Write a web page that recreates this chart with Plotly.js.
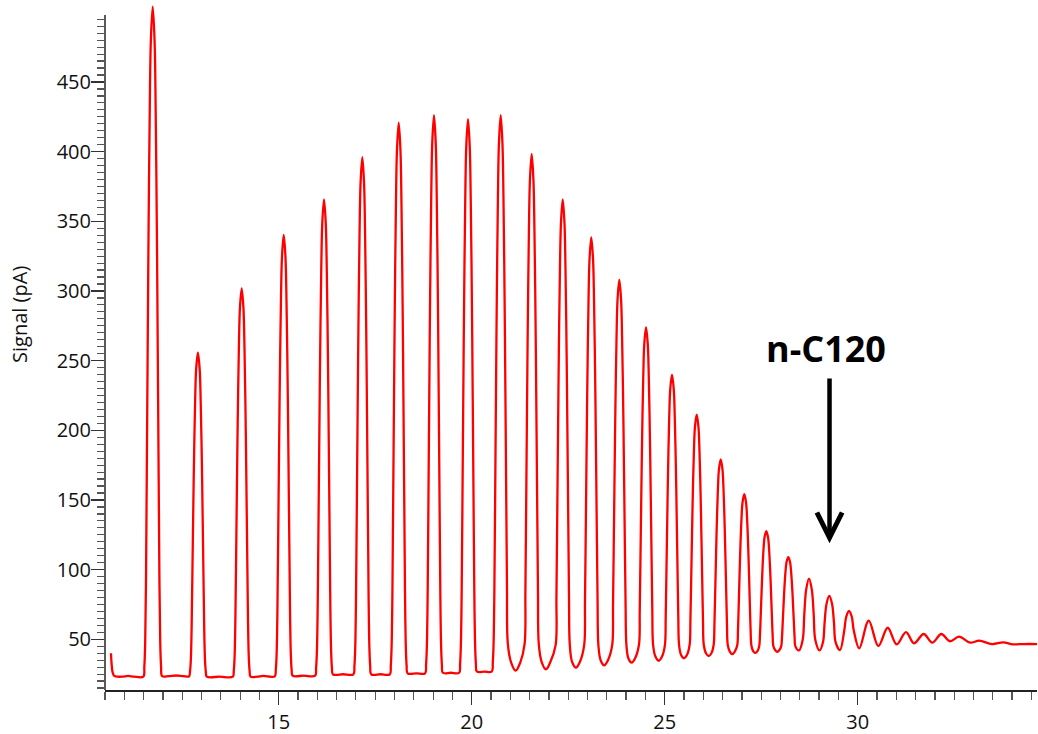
<!DOCTYPE html>
<html>
<head>
<meta charset="utf-8">
<script src="https://cdn.plot.ly/plotly-3.0.1.min.js"></script>
<style>
html,body{margin:0;padding:0;background:#fff;}
#chart{width:1038px;height:734px;}
</style>
</head>
<body>
<div id="chart"></div>
<script>
// Retention time (min) and detector signal (pA)
const retentionTime = [
  10.655,10.672,10.695,10.730,10.780,10.950,11.100,11.250,
  11.492,11.519,11.541,11.563,11.582,11.607,11.629,11.660,11.688,11.736,11.784,11.812,11.843,11.865,11.890,11.909,11.931,11.953,11.980,
  12.150,12.340,12.530,
  12.677,12.702,12.723,12.744,12.762,12.785,12.806,12.835,12.862,12.907,12.952,12.979,13.008,13.029,13.052,13.070,13.091,13.112,13.137,
  13.470,
  13.811,13.836,13.857,13.878,13.896,13.919,13.940,13.969,13.996,14.041,14.086,14.113,14.142,14.163,14.186,14.204,14.225,14.246,14.271,
  14.450,14.590,14.730,
  14.900,14.925,14.946,14.967,14.985,15.008,15.029,15.058,15.085,15.130,15.175,15.202,15.231,15.252,15.275,15.293,15.314,15.335,15.360,
  15.650,
  15.944,15.969,15.990,16.011,16.029,16.052,16.073,16.102,16.129,16.174,16.219,16.246,16.275,16.296,16.319,16.337,16.358,16.379,16.404,
  16.670,
  16.936,16.961,16.982,17.003,17.021,17.044,17.065,17.094,17.121,17.166,17.211,17.238,17.267,17.288,17.311,17.329,17.350,17.371,17.396,
  17.640,
  17.879,17.904,17.925,17.946,17.964,17.987,18.008,18.037,18.064,18.109,18.154,18.181,18.210,18.231,18.254,18.272,18.293,18.314,18.339,
  18.570,
  18.793,18.818,18.839,18.860,18.878,18.901,18.922,18.951,18.978,19.023,19.068,19.095,19.124,19.145,19.168,19.186,19.207,19.228,19.253,
  19.460,
  19.674,19.699,19.720,19.741,19.759,19.782,19.803,19.832,19.859,19.904,19.949,19.976,20.005,20.026,20.049,20.067,20.088,20.109,20.134,
  20.330,
  20.521,20.546,20.567,20.588,20.606,20.629,20.650,20.679,20.706,20.751,20.796,20.823,20.852,20.873,20.896,20.914,20.935,
  21.020,21.140,21.260,
  21.370,21.391,21.409,21.432,21.453,21.482,21.509,21.554,21.599,21.626,21.655,21.676,21.699,21.717,21.738,
  21.815,21.925,22.035,
  22.174,22.195,22.213,22.236,22.257,22.286,22.313,22.358,22.403,22.430,22.459,22.480,22.503,22.521,22.542,
  22.602,22.702,22.802,
  22.914,22.935,22.953,22.976,22.997,23.026,23.053,23.098,23.143,23.170,23.199,23.220,23.243,23.261,23.282,
  23.340,23.435,23.530,
  23.640,23.661,23.679,23.702,23.723,23.752,23.779,23.824,23.869,23.896,23.925,23.946,23.969,23.987,24.008,
  24.060,24.145,24.230,
  24.332,24.353,24.371,24.394,24.415,24.444,24.471,24.516,24.561,24.588,24.617,24.638,24.661,24.679,24.700,
  24.760,24.845,24.930,
  25.005,25.026,25.044,25.067,25.088,25.117,25.144,25.189,25.234,25.261,25.290,25.311,25.334,25.352,25.373,
  25.425,25.500,25.575,
  25.645,25.666,25.684,25.707,25.728,25.757,25.784,25.829,25.874,25.901,25.930,25.951,25.974,25.992,26.013,
  26.070,26.140,26.210,
  26.267,26.288,26.306,26.329,26.350,26.379,26.406,26.451,26.496,26.523,26.552,26.573,26.596,26.614,26.635,
  26.686,26.751,26.816,
  26.878,26.899,26.917,26.940,26.961,26.990,27.017,27.062,27.107,27.134,27.163,27.184,27.207,27.225,27.246,
  27.287,27.347,27.407,
  27.448,27.469,27.487,27.510,27.531,27.560,27.587,27.632,27.677,27.704,27.733,27.754,27.777,27.795,27.816,
  27.862,27.917,27.972,
  28.018,28.039,28.057,28.080,28.101,28.130,28.157,28.202,28.247,28.274,28.303,28.324,28.347,28.365,28.386,
  28.479,
  28.575,28.616,28.666,28.738,28.810,28.860,28.901,
  29.013,
  29.101,29.142,29.192,29.264,29.336,29.386,29.427,
  29.540,
  29.653,29.703,29.775,29.847,29.897,
  30.040,30.285,30.534,30.777,31.010,31.251,31.458,31.710,31.933,
  32.166,32.390,32.624,32.910,33.150,33.480,33.772,34.020,34.300,34.645
];
const signal = [
  40.0,32.0,26.5,24.0,23.3,23.2,23.7,23.2,
  23.2,30.4,47.2,95.3,167.4,263.6,345.3,431.9,480.0,504.0,480.0,431.9,345.3,263.6,167.4,95.3,47.2,30.4,23.6,
  23.6,24.0,23.6,
  23.4,26.9,35.0,58.2,93.1,139.6,179.0,220.9,244.1,255.7,244.1,220.9,179.0,139.6,93.1,58.2,35.0,26.9,23.2,
  23.2,
  23.2,27.4,37.1,65.0,106.8,162.6,209.9,260.1,288.0,301.9,288.0,260.1,209.9,162.6,106.8,65.0,37.1,27.4,23.2,
  23.2,23.7,23.3,
  23.4,28.3,39.3,71.0,118.5,181.9,235.7,292.7,324.4,340.2,324.4,292.7,235.7,181.9,118.5,71.0,39.3,28.3,23.9,
  23.9,
  23.9,29.5,41.5,75.6,126.8,195.1,253.1,314.6,348.7,365.8,348.7,314.6,253.1,195.1,126.8,75.6,41.5,29.5,24.9,
  24.9,
  24.9,30.5,43.5,80.6,136.2,210.5,273.5,340.3,377.4,396.0,377.4,340.3,273.5,210.5,136.2,80.6,43.5,30.5,24.9,
  24.9,
  24.9,31.1,45.0,84.5,143.9,223.0,290.3,361.5,401.0,420.8,401.0,361.5,290.3,223.0,143.9,84.5,45.0,31.1,25.6,
  25.6,
  25.6,31.8,45.8,85.8,145.9,226.0,294.0,366.1,406.1,426.1,406.1,366.1,294.0,226.0,145.9,85.8,45.8,31.8,26.0,
  26.0,
  26.0,32.4,46.3,86.0,145.5,224.9,292.4,363.9,403.6,423.4,403.6,363.9,292.4,224.9,145.5,86.0,46.3,32.4,26.9,
  26.8,
  26.9,33.1,47.1,87.0,146.8,226.6,294.4,366.3,406.2,426.1,406.2,366.3,294.4,226.6,146.8,87.0,47.1,
  33.5,27.5,33.5,
  46.5,83.5,139.1,213.2,276.1,342.8,379.8,398.3,379.8,342.8,276.1,213.2,139.1,83.5,46.5,
  33.5,28.5,33.5,
  45.8,79.5,130.0,197.4,254.7,315.3,349.0,365.8,349.0,315.3,254.7,197.4,130.0,79.5,45.8,
  33.7,29.6,33.7,
  45.8,76.6,122.8,184.5,236.8,292.3,323.1,338.5,323.1,292.3,236.8,184.5,122.8,76.6,45.8,
  35.0,31.3,35.0,
  46.0,73.6,114.9,170.1,216.9,266.5,294.1,307.9,294.1,266.5,216.9,170.1,114.9,73.6,46.0,
  36.2,33.2,36.2,
  45.9,69.9,105.9,153.9,194.7,237.9,261.9,273.9,261.9,237.9,194.7,153.9,105.9,69.9,45.9,
  37.6,34.6,37.6,
  45.7,66.2,96.8,137.7,172.4,209.2,229.7,239.9,229.7,209.2,172.4,137.7,96.8,66.2,45.7,
  38.7,36.4,38.7,
  45.9,63.3,89.4,124.2,153.8,185.1,202.5,211.2,202.5,185.1,153.8,124.2,89.4,63.3,45.9,
  40.0,38.0,40.0,
  45.7,59.8,80.9,109.0,132.8,158.1,172.2,179.2,172.2,158.1,132.8,109.0,80.9,59.8,45.7,
  41.2,39.4,41.2,
  45.5,57.0,74.1,97.0,116.4,137.0,148.4,154.1,148.4,137.0,116.4,97.0,74.1,57.0,45.5,
  41.7,40.2,41.7,
  45.0,53.7,66.7,84.2,99.0,114.6,123.3,127.7,123.3,114.6,99.0,84.2,66.7,53.7,45.0,
  42.3,41.0,42.3,
  44.9,51.6,61.7,75.2,86.7,98.8,105.5,108.9,105.5,98.8,86.7,75.2,61.7,51.6,44.9,
  42.0,
  49.7,67.8,85.8,93.5,85.8,67.8,49.7,
  42.0,
  48.0,61.6,75.3,81.1,75.3,61.6,48.0,
  42.2,
  56.5,66.2,70.3,66.2,56.5,
  43.5,63.4,45.2,58.3,46.4,55.2,47.1,53.8,47.6,
  53.8,48.6,51.9,47.6,49.0,46.6,47.8,46.4,46.6,46.6
];

// Axis ticks and texts
const xMajorTicks = [15, 20, 25, 30];
const yMajorTicks = [50, 100, 150, 200, 250, 300, 350, 400, 450];
const yTickLabels = ['50', '100', '150', '200', '250', '300', '350', '400', '450'];
const yAxisTitle = 'Signal (pA)';
const markerLabel = 'n-C120';
const markerTime = 29.27;
const markerSignal = 119;

const yMinor = [];
for (let v = 15; v <= 495; v += 5) { if (v % 50 !== 0) yMinor.push(v); }

const yRange = [13.61, 506.68];
const xRange = [10.5, 34.645];
const fontFam = 'Open Sans, Noto Sans, DejaVu Sans, sans-serif';

const trace = {
  x: retentionTime,
  y: signal,
  type: 'scatter',
  mode: 'lines',
  line: { color: '#ff0000', width: 2.3, shape: 'spline', smoothing: 1, simplify: false },
  hoverinfo: 'x+y'
};

const layout = {
  width: 1038,
  height: 734,
  margin: { l: 105, r: 1, t: 3, b: 44, pad: 0 },
  paper_bgcolor: '#ffffff',
  plot_bgcolor: '#ffffff',
  showlegend: false,
  xaxis: {
    range: xRange,
    tickmode: 'array',
    tickvals: xMajorTicks,
    ticktext: xMajorTicks.map(String),
    ticks: 'outside',
    ticklen: 13,
    tickwidth: 1.5,
    tickcolor: '#333333',
    showline: true,
    linecolor: '#222222',
    linewidth: 1.5,
    showgrid: false,
    zeroline: false,
    tickfont: { family: fontFam, size: 20, color: '#111111' },
    minor: { tickmode: 'linear', tick0: 0, dtick: 0.5, ticks: 'outside', ticklen: 8, tickwidth: 1.2, tickcolor: '#555555', showgrid: false }
  },
  yaxis: {
    range: yRange,
    tickmode: 'array',
    tickvals: yMajorTicks,
    ticktext: yTickLabels,
    ticks: 'outside',
    ticklen: 13,
    tickwidth: 1.5,
    tickcolor: '#333333',
    ticklabelstandoff: -4,
    showline: false,
    showgrid: false,
    zeroline: false,
    tickfont: { family: fontFam, size: 20, color: '#111111' },
    minor: { tickmode: 'array', tickvals: yMinor, ticks: 'outside', ticklen: 7, tickwidth: 1.2, tickcolor: '#555555', showgrid: false }
  },
  shapes: [
    { type: 'line', xref: 'paper', yref: 'y', x0: 0, x1: 0, y0: yRange[0], y1: 498,
      line: { color: '#222222', width: 1.5 } }
  ],
  annotations: [
    { xref: 'paper', yref: 'paper', x: -0.0912, y: 0.546, text: yAxisTitle, textangle: -90,
      showarrow: false, xanchor: 'center', yanchor: 'middle',
      font: { family: fontFam, size: 20, color: '#111111' } },
    { xref: 'x', yref: 'y', x: 29.18, y: 258.4, text: markerLabel, showarrow: false,
      xanchor: 'center', yanchor: 'middle',
      font: { family: fontFam, size: 36, color: '#000000', weight: 700 } },
    { xref: 'x', yref: 'y', x: markerTime, y: markerSignal, axref: 'x', ayref: 'y',
      ax: markerTime, ay: 238.3, text: '', showarrow: true, arrowhead: 5, arrowsize: 1.1,
      arrowwidth: 4.5, arrowcolor: '#000000', standoff: 0, startstandoff: 0 }
  ]
};

Plotly.newPlot('chart', [trace], layout, { displayModeBar: false, staticPlot: true });
</script>
</body>
</html>
